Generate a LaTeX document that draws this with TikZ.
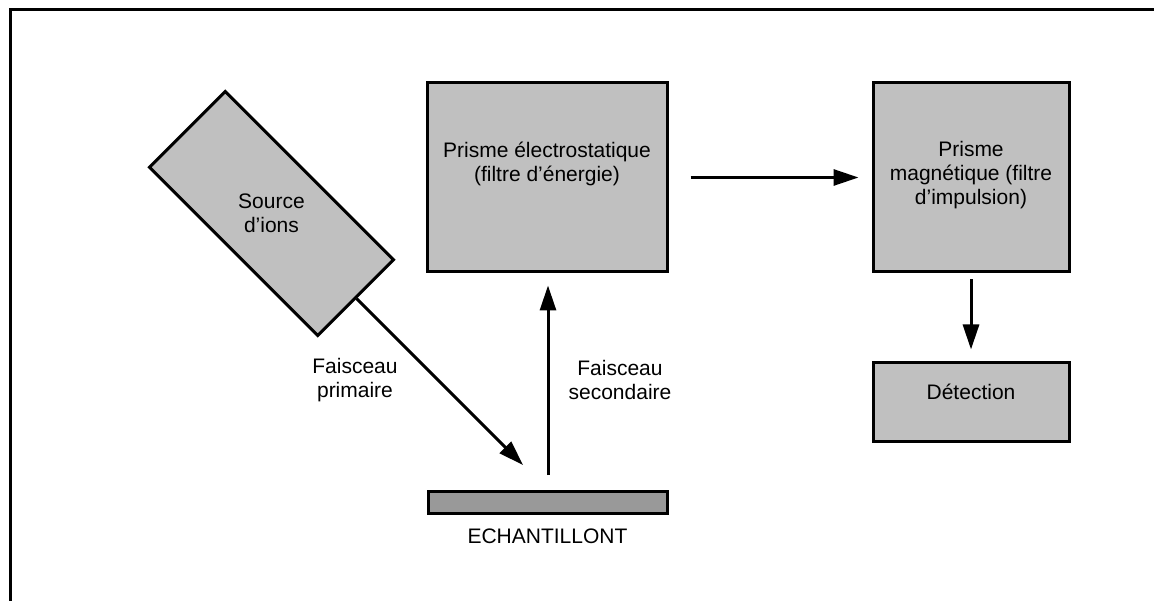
\documentclass[tikz,border=0pt]{standalone}
\usepackage{fontspec}
\setmainfont{Liberation Sans}
\usetikzlibrary{arrows.meta,positioning}
\definecolor{boxGray}{HTML}{C0C0C0}
\definecolor{sampleGray}{HTML}{999999}

\begin{document}
\begin{tikzpicture}[x=1pt,y=-1pt,
    bloc/.style={draw,line width=3pt,fill=boxGray},
    txt/.style={align=center,inner sep=0pt,font=\fontsize{21}{24}\selectfont},
    beam/.style={line width=3pt,-{Triangle[length=25pt,width=16pt]}}]
  \useasboundingbox (0,0) rectangle (1154,601);
  \draw[line width=3pt] (1154,10) -- (10,10) -- (10,601);

  % source, tilted
  \node[bloc,rotate=-45,minimum width=238pt,minimum height=107pt] (source) at (271.5,213.5) {};
  \node[txt] (source-txt) at (source.center) {Source\\d’ions};

  % prisms and detector
  \node[bloc,minimum width=240pt,minimum height=189pt] (elec) at (547,177.5) {};
  \node[txt] (elec-txt) at (547,164) {Prisme électrostatique\\(filtre d’énergie)};
  \node[bloc,minimum width=196pt,minimum height=189pt] (magn) at (971,177.5) {};
  \node[txt] (magn-txt) at (971,175) {Prisme\\magnétique (filtre\\d’impulsion)};
  \node[bloc,minimum width=196pt,minimum height=78pt] (det) at (971,402) {};
  \node[txt] (det-txt) at (971,392) {Détection};

  % sample
  \node[draw,line width=3pt,fill=sampleGray,minimum width=239pt,minimum height=22pt] (sample) at (547.5,502) {};
  \node[txt,below=14pt of sample] (sample-txt) {ECHANTILLONT};

  \coordinate (hit) at (523,465);
  \coordinate (emit) at (548,475);
  \draw[beam] (source.east) -- (hit);
  \draw[beam,shorten >=12pt] (emit) -- (emit |- elec.south);
  \draw[beam,shorten <=22pt,shorten >=13pt] (elec.east) -- (magn.west);
  \draw[beam,shorten <=6pt,shorten >=12pt] (magn.south) -- (det.north);

  \node[txt] (prim-txt) at (355,380) {Faisceau\\primaire};
  \node[txt] (sec-txt) at (620,380) {Faisceau\\secondaire};
\end{tikzpicture}
\end{document}
